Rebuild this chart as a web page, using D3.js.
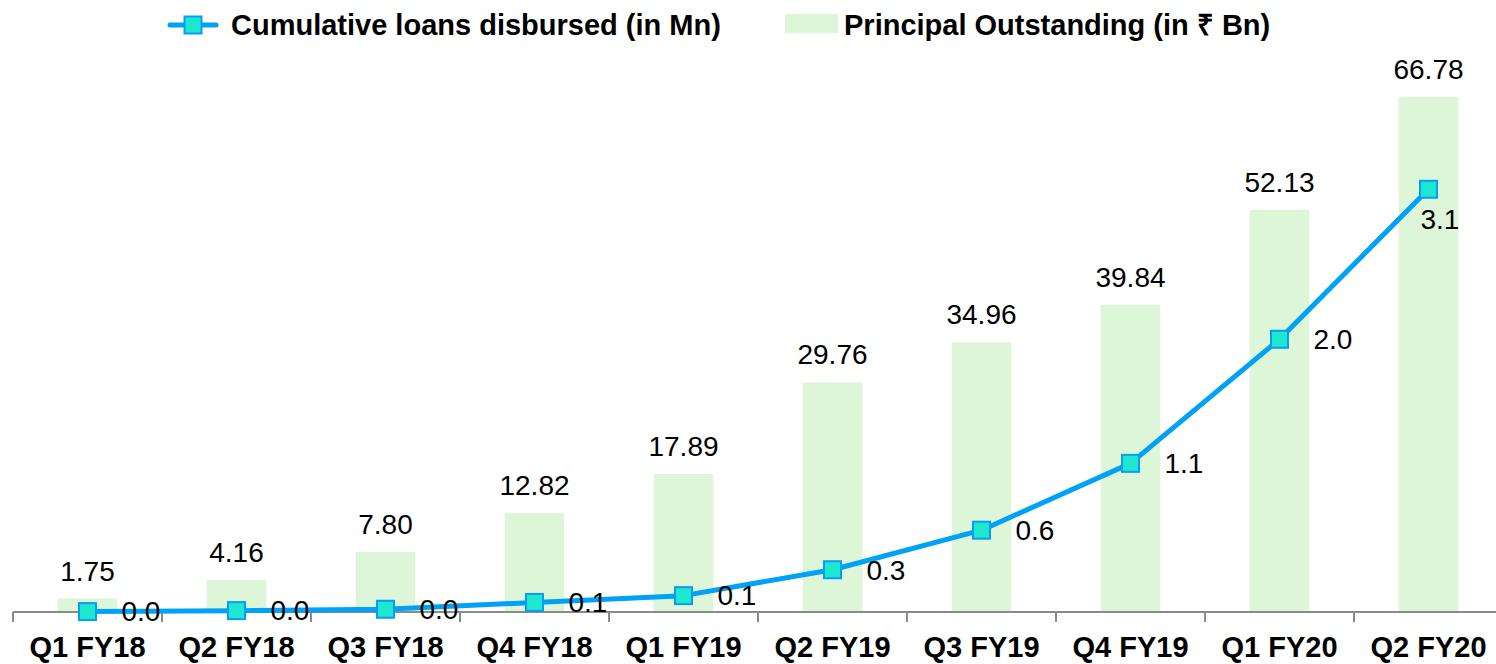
<!DOCTYPE html>
<html>
<head>
<meta charset="utf-8">
<script src="https://cdn.jsdelivr.net/npm/d3@7"></script>
<style>
  body { margin: 0; background: #fff; }
  svg { display: block; font-family: "Liberation Sans", Arial, sans-serif; }
</style>
</head>
<body>
<div id="chart"></div>
<script>
const quarters = ["Q1 FY18", "Q2 FY18", "Q3 FY18", "Q4 FY18", "Q1 FY19", "Q2 FY19", "Q3 FY19", "Q4 FY19", "Q1 FY20", "Q2 FY20"];
const principalOutstanding = [1.75, 4.16, 7.80, 12.82, 17.89, 29.76, 34.96, 39.84, 52.13, 66.78];
const cumulativeLoans = [0.003, 0.01, 0.02, 0.07, 0.12, 0.31, 0.6, 1.09, 2.0, 3.1];

const width = 1496, height = 664;
const baseY = 612, topY = 72;

const barColor = "#def6d8";
const lineColor = "#00a2f5";
const markerFill = "#1de8cf";
const markerStroke = "#0a9cf5";

const svg = d3.select("#chart")
  .append("svg")
  .attr("width", width)
  .attr("height", height);

const x = d3.scaleBand()
  .domain(quarters)
  .range([13, 1503])
  .paddingInner(0.6)
  .paddingOuter(0.3);

const y = d3.scaleLinear()
  .domain([0, 70])
  .range([baseY, topY]);

const y2 = d3.scaleLinear()
  .domain([0, 3.96])
  .range([baseY, topY]);

const cx = d => x(d) + x.bandwidth() / 2;

// bars
svg.selectAll(".bar")
  .data(quarters)
  .enter()
  .append("rect")
  .attr("class", "bar")
  .attr("x", d => x(d))
  .attr("width", x.bandwidth())
  .attr("y", (d, i) => y(principalOutstanding[i]))
  .attr("height", (d, i) => baseY - y(principalOutstanding[i]))
  .attr("fill", barColor);

svg.selectAll(".bar-label")
  .data(quarters)
  .enter()
  .append("text")
  .attr("class", "bar-label")
  .attr("x", d => cx(d))
  .attr("y", (d, i) => y(principalOutstanding[i]) - 18)
  .attr("text-anchor", "middle")
  .style("font-size", "28px")
  .attr("fill", "#000")
  .text((d, i) => principalOutstanding[i].toFixed(2));

// axis
const axisG = svg.append("g")
  .attr("transform", `translate(0,${baseY})`);

axisG.call(d3.axisBottom(x).tickSize(0).tickPadding(24))
  .call(g => g.select(".domain").remove());

axisG.selectAll(".tick text")
  .style("font-family", "'Liberation Sans', Arial, sans-serif")
  .style("font-size", "29px")
  .style("font-weight", "bold")
  .attr("fill", "#000");

axisG.append("line")
  .attr("x1", 13)
  .attr("x2", width)
  .attr("stroke", "#8a8a8a")
  .attr("stroke-width", 2);

const step = x.step();
const bounds = quarters.map(d => x(d) - step * x.paddingInner() / 2);
axisG.selectAll(".btick")
  .data(bounds)
  .enter()
  .append("line")
  .attr("x1", d => d)
  .attr("x2", d => d)
  .attr("y1", 0)
  .attr("y2", 10)
  .attr("stroke", "#8a8a8a")
  .attr("stroke-width", 2);

// line
const line = d3.line()
  .x((d, i) => cx(quarters[i]))
  .y(d => y2(d));

svg.append("path")
  .datum(cumulativeLoans)
  .attr("d", line)
  .attr("fill", "none")
  .attr("stroke", lineColor)
  .attr("stroke-width", 5)
  .attr("stroke-linejoin", "round");

const ms = 17;
svg.selectAll(".marker")
  .data(cumulativeLoans)
  .enter()
  .append("rect")
  .attr("class", "marker")
  .attr("x", (d, i) => cx(quarters[i]) - ms / 2)
  .attr("y", d => y2(d) - ms / 2)
  .attr("width", ms)
  .attr("height", ms)
  .attr("fill", markerFill)
  .attr("stroke", markerStroke)
  .attr("stroke-width", 2);

const last = cumulativeLoans.length - 1;
svg.selectAll(".line-label")
  .data(cumulativeLoans)
  .enter()
  .append("text")
  .attr("class", "line-label")
  .attr("x", (d, i) => cx(quarters[i]) + (i === last ? -8 : 34))
  .attr("y", (d, i) => y2(d) + (i === last ? 30 : 0))
  .attr("dy", "0.35em")
  .style("font-size", "28px")
  .attr("fill", "#000")
  .text(d => d.toFixed(1));

// legend
const leg = svg.append("g");
leg.append("line")
  .attr("x1", 170).attr("x2", 216)
  .attr("y1", 25).attr("y2", 25)
  .attr("stroke", lineColor)
  .attr("stroke-width", 5)
  .attr("stroke-linecap", "round");
leg.append("rect")
  .attr("x", 193 - ms / 2).attr("y", 25 - ms / 2)
  .attr("width", ms).attr("height", ms)
  .attr("fill", markerFill)
  .attr("stroke", markerStroke)
  .attr("stroke-width", 2);
leg.append("text")
  .attr("x", 231).attr("y", 25)
  .attr("dy", "0.35em")
  .style("font-size", "29px")
  .style("font-weight", "bold")
  .text("Cumulative loans disbursed (in Mn)");

leg.append("rect")
  .attr("x", 785).attr("y", 14)
  .attr("width", 53).attr("height", 19)
  .attr("fill", barColor);
leg.append("text")
  .attr("x", 844).attr("y", 25)
  .attr("dy", "0.35em")
  .style("font-size", "29px")
  .style("font-weight", "bold")
  .text("Principal Outstanding (in ₹ Bn)");
</script>
</body>
</html>
